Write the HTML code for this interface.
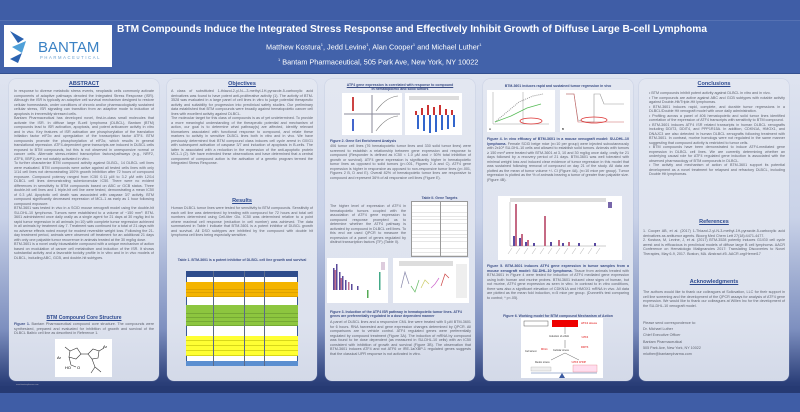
<!DOCTYPE html>
<html><head><meta charset="utf-8"><style>
*{margin:0;padding:0;box-sizing:border-box}
body{width:800px;height:412px;overflow:hidden;position:relative;font-family:"Liberation Sans",sans-serif;background:#3f5da6}
.a{position:absolute}
#bg{left:0;top:74px;width:800px;height:319px;background:linear-gradient(#dfe4f0 0%,#c9d2e8 45%,#7d8fbf 80%,#2a3e78 97%,#263a73 100%)}
.panel{position:absolute;top:79px;width:150px;height:302px;border-radius:7px;background:linear-gradient(#e3e7f1,#dde2ee 80%,#d3d9e8);box-shadow:0 0 1px #9aa6c8}
.t{position:absolute;font-size:3.7px;line-height:4.5px;color:#5e626e;text-align:justify;overflow:hidden}
.h{position:absolute;font-size:5.5px;font-weight:bold;color:#2d4a8f;text-decoration:underline;text-align:center}
.cap{position:absolute;font-size:3.5px;line-height:4.2px;color:#3d4f86;font-weight:bold;overflow:hidden}
.img{position:absolute;background:#fff}
</style></head><body>
<div class="a" style="left:0;top:0;width:800px;height:74px;background:#3f5da6"></div>
<div class="a" style="left:0;top:20px;width:800px;height:54px;border-top:1px solid #5571b3;border-bottom:1px solid #33508f;background:#4262aa"></div>
<div class="a" style="left:4px;top:25px;width:108px;height:42px;background:#fff">
<svg width="108" height="42"><polygon points="6,6 20,14 14,18" fill="#2a62b0"/><polygon points="8,22 22,16 18,28" fill="#4fa0d8"/><polygon points="6,34 18,28 14,38" fill="#2a62b0"/>
<text x="34" y="27" font-family="Liberation Sans" font-size="15" fill="#3b82c4">BANTAM</text>
<text x="36" y="34" font-family="Liberation Sans" font-size="4.2" fill="#6aa0d0" letter-spacing="1.6">PHARMACEUTICAL</text></svg></div>
<div class="a" style="left:117px;top:24px;width:640px;font-size:10.2px;font-weight:bold;color:#fff">BTM Compounds Induce the Integrated Stress Response and Effectively Inhibit Growth of Diffuse Large B-cell Lymphoma</div>
<div class="a" style="left:266px;top:42px;font-size:7.3px;color:#fff">Matthew Kostura<sup style="font-size:4px">1</sup>, Jedd Levine<sup style="font-size:4px">1</sup>, Alan Cooper<sup style="font-size:4px">1</sup> and Michael Luther<sup style="font-size:4px">1</sup></div>
<div class="a" style="left:278px;top:57px;font-size:7.3px;color:#fff"><sup style="font-size:4px">1</sup> Bantam Pharmaceutical, 505 Park Ave, New York, NY 10022</div>

<div id="bg" class="a"></div>
<div class="a" style="left:0;top:386px;width:800px;height:7px;background:#263a73"></div>
<div class="a" style="left:16px;top:384px;font-size:2px;color:#aab">www.bantampharma.com</div>

<!-- col1 -->
<div class="panel" style="left:9px"></div>
<div class="h" style="left:9px;top:81px;width:150px">ABSTRACT</div>
<div class="t" style="left:14px;top:89px;width:140px;height:218px">In response to diverse metabolic stress events, neoplastic cells commonly activate components of adaptive pathways denoted the Integrated Stress Response (ISR). Although the ISR is typically an adaptive cell survival mechanism designed to restore cellular homeostasis, under conditions of chronic and/or pharmacologically sustained cellular stress, ISR signaling can transition from an adaptive mode to induction of apoptosis in irreversibly stressed cells.<br>Bantam Pharmaceutical has developed novel, first-in-class small molecules that activate the ISR. In diffuse large B-cell lymphoma (DLBCL), Bantam (BTM) compounds lead to ISR activation, apoptosis, and potent anticancer activity in vitro and in vivo. Key features of ISR activation are phosphorylation of the translation initiation factor eIF2α and upregulation of the transcription factor ATF4. BTM compounds promote the phosphorylation of eIF2α, which results in general translational repression. ATF4-dependent gene transcripts are induced in DLBCL cells exposed to BTM compounds, but this is not observed in unresponsive normal or cancer cells. Alternate stress-related transcription factors/pathways (e.g., NRF2, ATF6, XBP1) are not notably activated in vitro.<br>To further characterize BTM compound activity against DLBCL, 14 DLBCL cell lines were evaluated. BTM compounds were active against all tested cells lines with only 1/14 cell lines not demonstrating 100% growth inhibition after 72 hours of compound exposure. Compound potency ranged from IC50 0.11 µM to 3.2 µM with 12/14 DLBCL cell lines demonstrating submicromolar IC50. There were no evident differences in sensitivity to BTM compounds based on ABC or GCB status. Three double-hit cell lines and 1 triple-hit cell line were tested, demonstrating a mean IC50 of 0.3 µM. Apoptotic cell death was associated with caspase 3/7 activity. BTM compound significantly decreased expression of MCL-1 as early as 1 hour following compound exposure.<br>BTM-3601 was tested in vivo in a SCID mouse xenograft model using the double-hit SU-DHL-10 lymphoma. Tumors were established to a volume of ~150 mm³. BTM-3601 administered once daily orally as a single agent for 21 days at 30 mg/kg led to rapid tumor regression in all animals (n=10) with complete tumor regression achieved in all animals by treatment day 7. Treatment was continued for a total of 21 days with no adverse effects noted except for modest reversible weight loss. Following the 21-day treatment period, animals were observed off treatment for an additional 21 days with only one palpable tumor recurrence in animals treated at the 30 mg/kg dose.<br>BTM-3601 is a novel orally bioavailable compound with a unique mechanism of action based on modulation of cancer cell metabolism and induction of the ISR. It shows substantial activity and a favorable toxicity profile in in vitro and in in vivo models of DLBCL, including ABC, GCB, and double-hit subtypes.</div>
<div class="h" style="left:9px;top:315px;width:150px;font-size:5px">BTM Compound Core Structure</div>
<div class="t" style="left:14px;top:322px;width:140px;height:14px"><b style="color:#3d4f86">Figure 1.</b> Bantam Pharmaceutical compound core structure. The compounds were synthesized, prepared and evaluated for inhibition of growth and survival of the DLBCL Balb/c cell line as described in Reference 1.</div>
<div class="img" style="left:55px;top:339px;width:57px;height:38px"><svg width="57" height="38"><g stroke="#333" stroke-width=".6" fill="none"><polygon points="15,12 22,9 26,15 21,20 14,18"/><line x1="26" y1="15" x2="33" y2="15"/><polygon points="33,15 38,10 44,12 43,19 37,20"/><line x1="37" y1="20" x2="40" y2="28"/><line x1="40" y1="28" x2="36" y2="34"/><line x1="40" y1="28" x2="46" y2="33"/><line x1="14" y1="18" x2="16" y2="26"/><line x1="16" y1="26" x2="21" y2="28"/><line x1="44" y1="12" x2="49" y2="9"/><line x1="15" y1="12" x2="10" y2="8"/></g><text x="2" y="20" font-size="4" font-family="Liberation Sans">Ar</text><text x="48" y="9" font-size="4" font-family="Liberation Sans">Ar</text><text x="10" y="30" font-size="4" font-family="Liberation Sans">HO</text><text x="22" y="30" font-size="4" font-family="Liberation Sans">O</text></svg></div>

<!-- col2 -->
<div class="panel" style="left:167px"></div>
<div class="h" style="left:167px;top:81px;width:150px">Objectives</div>
<div class="t" style="left:171px;top:89px;width:142px;height:102px">A class of substituted 1-thiazol-2-yl-N—3-methyl-1H-pyrazole-5-carboxylic acid derivatives was found to have potent anti-proliferative activity (1). The activity of BTM-3528 was evaluated in a large panel of cell lines in vitro to judge potential therapeutic activity and suitability for progression into preclinical safety studies. Our preliminary data established that BTM compounds were broadly against hematopoietic cancer cell lines with excellent activity against DLBCL.<br>The molecular target for this class of compounds is as of yet undetermined. To provide a more meaningful understanding of the therapeutic potential and mechanism of action, our goal is to determine what pathway(s) are affected, identify relevant biomarkers associated with functional response to compound, and relate these markers to activity in sensitive DLBCL lines both in vitro and in vivo. We have previously determined that BTM compound class induces cell cycle arrest in G0/G1 with subsequent activation of caspase 3/7 and induction of apoptosis in B-cells. The latter is associated with a reduction in the expression of the anti-apoptotic protein MCL-1 (2). We have extended these observations and have determined that a central component of compound action is the activation of a genetic program termed the Integrated Stress Response.</div>
<div class="h" style="left:167px;top:198px;width:150px">Results</div>
<div class="t" style="left:171px;top:206px;width:142px;height:43px">Human DLBCL tumor lines were tested for sensitivity to BTM compounds. Sensitivity of each cell line was determined by treating with compound for 72 hours and total cell numbers determined using Cell-titer Glo. IC50 was determined relative to a point where maximal cell response (reduction in cell number) was achieved. The data summarized in Table I indicate that BTM-3601 is a potent inhibitor of DLBCL growth and survival. All DSO subtypes are inhibited by the compound with double hit lymphoma cell lines being especially sensitive.</div>
<div class="cap" style="left:171px;top:258px;width:142px;text-decoration:underline;text-align:center">Table 1. BTM-3601 is a potent inhibitor of DLBCL cell line growth and survival</div>
<div class="a" style="left:186px;top:271px;width:112px;height:95px;background:#fff;border:1px solid #3a5a96"></div>
<div class="a" style="left:186px;top:271px;width:112px;height:6px;background:#2f4d8c"></div>
<div class="a" style="left:186px;top:282px;width:112px;height:15px;background:repeating-linear-gradient(#f4b400 0 3.3px,#c98f00 3.3px 3.7px)"></div>
<div class="a" style="left:186px;top:305px;width:112px;height:21px;background:repeating-linear-gradient(#8dc63f 0 3.8px,#5f8f2a 3.8px 4.2px)"></div>
<div class="a" style="left:186px;top:336px;width:112px;height:20px;background:repeating-linear-gradient(#ffff33 0 4.6px,#b0b000 4.6px 5px)"></div>
<div class="a" style="left:186px;top:361px;width:112px;height:5px;background:#5b8fd0"></div>
<div class="a" style="left:213px;top:271px;width:.5px;height:95px;background:#5a6a8a"></div>
<div class="a" style="left:244px;top:271px;width:.5px;height:95px;background:#5a6a8a"></div>
<div class="a" style="left:264px;top:271px;width:.5px;height:95px;background:#5a6a8a"></div>

<!-- col3 -->
<div class="panel" style="left:325px"></div>
<div class="cap" style="left:330px;top:83px;width:140px;text-align:center;text-decoration:underline">ATF4 gene expression is correlated with response to compound<br>in hematopoietic and solid tumors</div>
<div class="img" style="left:342px;top:93px;width:60px;height:42px"><svg width="60" height="42"><g fill="none" stroke="#889"><line x1="30" y1="2" x2="30" y2="40"/><line x1="2" y1="21" x2="58" y2="21"/></g><path d="M34 18 Q44 4 56 3" stroke="#777" fill="none" stroke-width=".6"/><path d="M34 38 Q44 24 56 23" stroke="#777" fill="none" stroke-width=".6"/><rect x="10" y="4" width="2" height="14" fill="#c44"/><rect x="10" y="26" width="2" height="12" fill="#46c"/></svg></div>
<div class="img" style="left:405px;top:93px;width:57px;height:42px"><svg width="57" height="42"><rect x="4" y="3" width="50" height="4" fill="#ddd"/><g fill="#c33"><rect x="10" y="18" width="2" height="4"/><rect x="16" y="15" width="2" height="7"/><rect x="22" y="12" width="2" height="10"/><rect x="28" y="14" width="2" height="8"/><rect x="34" y="12" width="2" height="10"/><rect x="40" y="16" width="2" height="6"/><rect x="46" y="17" width="2" height="5"/></g><g fill="#36c"><rect x="12" y="22" width="2" height="14"/><rect x="18" y="22" width="2" height="16"/><rect x="24" y="22" width="2" height="18"/><rect x="30" y="22" width="2" height="17"/><rect x="36" y="22" width="2" height="15"/><rect x="42" y="22" width="2" height="14"/><rect x="48" y="22" width="2" height="12"/></g></svg></div>
<div class="cap" style="left:330px;top:139px;width:140px">Figure 2. Gene Set Enrichment Analysis</div>
<div class="t" style="left:330px;top:144px;width:141px;height:50px">406 tumor cell lines (76 hematopoietic tumor lines and 330 solid tumor lines) were screened to establish a relationship between gene expression and response to compound (Responder is defined as IC50 < 1.0 µM and > 50% total inhibition of growth or survival). ATF4 gene expression is significantly higher in hematopoietic tumor lines as opposed to solid tumors (p<.001, Figures 2 A and C). ATF4 gene expression is higher in responsive as opposed to non-responsive tumor lines (p<.001, Figures 2 B, D and E). Overall 82% of hematopoietic tumor lines are responsive to compound and represent 36% of all responsive cell lines (Figure E).</div>
<div class="cap" style="left:411px;top:196px;width:57px;text-align:center">Table II. Gene Targets</div>
<div class="img" style="left:411px;top:201px;width:57px;height:56px;background:repeating-linear-gradient(#fff 0 3.2px,#ccc 3.2px 3.6px);border:.5px solid #999"></div>
<div class="a" style="left:440px;top:201px;width:.5px;height:56px;background:#999"></div>
<div class="t" style="left:330px;top:204px;width:76px;height:48px">The higher level of expression of ATF4 in hematopoietic tumors coupled with the association of ATF4 gene expression to compound response prompted us to determine whether the ATF4 pathway is activated by compound in DLBCL cell lines. To this end we used QPCR to measure the expression of a panel of genes regulated by distinct transcription factors (TF) (Table II).</div>
<div class="img" style="left:327px;top:258px;width:61px;height:45px"><svg width="61" height="45"><g fill="#5a4a9a"><rect x="6" y="10" width="1.5" height="22"/><rect x="9" y="6" width="1.5" height="26"/><rect x="12" y="14" width="1.5" height="18"/><rect x="15" y="18" width="1.5" height="14"/><rect x="18" y="22" width="1.5" height="10"/><rect x="24" y="26" width="1.5" height="6"/><rect x="30" y="28" width="1.5" height="4"/></g><g fill="#c07090"><rect x="7.5" y="12" width="1.5" height="20"/><rect x="13.5" y="20" width="1.5" height="12"/><rect x="21" y="24" width="1.5" height="8"/></g><rect x="40" y="32" width="1.5" height="8" fill="#5a5"/><rect x="52" y="14" width="1.5" height="18" fill="#4a8"/><rect x="54" y="4" width="4" height="8" fill="#dcd"/></svg></div>
<div class="img" style="left:393px;top:258px;width:76px;height:45px"><svg width="76" height="45"><rect x="6" y="3" width="54" height="5" fill="#ddd"/><g fill="none" stroke-width=".7"><path d="M8 30 L12 14 L16 26" stroke="#88a"/><path d="M18 28 L22 34 L26 22" stroke="#6b6"/><path d="M28 30 L32 22 L36 26" stroke="#cc6"/><path d="M38 30 L42 26 L46 20" stroke="#c6c"/><path d="M48 28 L52 16 L56 20" stroke="#c44"/></g><rect x="63" y="6" width="11" height="34" fill="#eee"/></svg></div>
<div class="cap" style="left:330px;top:310px;width:141px">Figure 3. Induction of the ATF4 ISR pathway in hematopoietic tumor lines. ATF4 genes are preferentially regulated in a dose dependent manner</div>
<div class="t" style="left:330px;top:320px;width:141px;height:37px">A panel of DLBCL lines and a responsive CML line were treated with 5 µM BTM-3601 for 6 hours. RNA harvested and gene expression changes determined by QPCR. All comparisons are to vehicle control. ATF4 regulated genes were preferentially regulated by compound treatment (Figure 3A). The induction of mRNA by compound was found to be dose dependent (as measured in SU-DHL-10 cells) with an IC50 consistent with inhibition of growth and survival (Figure 3B). The observation that BTM-3601 induces ATF4 and not ATF6 or IRE-1a/XBP-1 regulated genes suggests that the classical UPR response is not activated in vitro.</div>

<!-- col4 -->
<div class="panel" style="left:483px"></div>
<div class="cap" style="left:487px;top:84px;width:142px;text-align:center;text-decoration:underline">BTM-3601 induces rapid and sustained tumor regression in vivo</div>
<div class="img" style="left:487px;top:90px;width:68px;height:42px"><svg width="68" height="42"><g stroke="#999" stroke-width=".5"><line x1="6" y1="2" x2="6" y2="34"/><line x1="6" y1="34" x2="62" y2="34"/><line x1="36" y1="2" x2="36" y2="34"/></g><path d="M8 32 L20 22 L32 12 L46 6 L56 4" stroke="#999" fill="none" stroke-dasharray="1,1"/><path d="M8 32 L24 26 L40 18 L54 14" stroke="#5b5" fill="none" stroke-width=".7"/><ellipse cx="44" cy="31" rx="11" ry="3" fill="none" stroke="#d33" stroke-width=".8"/><text x="2" y="40" font-size="3" font-family="Liberation Sans">A</text></svg></div>
<div class="img" style="left:560px;top:90px;width:70px;height:42px"><svg width="70" height="42"><path d="M6 4 L14 4 L18 30 L26 32 L34 32 L34 4 L40 4 L44 14 L64 14" stroke="#999" fill="none" stroke-width=".6"/><path d="M6 4 L14 4 L18 32 L64 32" stroke="#c66" fill="none" stroke-width=".6"/><ellipse cx="34" cy="30" rx="13" ry="3" fill="none" stroke="#d33" stroke-width=".8"/><text x="2" y="40" font-size="3" font-family="Liberation Sans">B</text></svg></div>
<div class="t" style="left:487px;top:137px;width:142px;height:58px"><b style="color:#3d4f86">Figure 4. In vivo efficacy of BTM-3601 in a mouse xenograft model: SU-DHL-10 lymphoma.</b> Female SCID beige mice (n=10 per group) were injected subcutaneously with 2x10⁶ SU-DHL-10 cells and allowed to establish solid tumors. Animals with tumors ≥ 150 mm³ were treated with BTM-3601 at 3, 10 and 30 mg/kg once daily, orally for 21 days followed by a recovery period of 21 days. BTM-3601 was well tolerated with minimal weight loss and induced clear evidence of tumor regression in this model that was sustained following removal of compound on day 21 of the study. All data are plotted as the mean of tumor volume +/- CI (Figure 4A). (n=10 mice per group). Tumor regression is plotted as the % of animals bearing a tumor of greater than palpable size. (Figure 4B).</div>
<div class="img" style="left:498px;top:196px;width:124px;height:64px"><svg width="124" height="64"><rect x="12" y="2" width="96" height="4" fill="#ddd"/><line x1="12" y1="6" x2="12" y2="50" stroke="#999" stroke-width=".5"/><line x1="12" y1="50" x2="108" y2="50" stroke="#999" stroke-width=".5"/><g fill="#c56a84"><rect x="17" y="8" width="2" height="42"/><rect x="23" y="38" width="2" height="12"/><rect x="29" y="44" width="2" height="6"/><rect x="46" y="20" width="2" height="30"/><rect x="60" y="44" width="2" height="6"/><rect x="70" y="46" width="2" height="4"/></g><g fill="#5a4aa0"><rect x="15" y="40" width="2" height="10"/><rect x="21" y="42" width="2" height="8"/><rect x="27" y="46" width="2" height="4"/><rect x="35" y="47" width="2" height="3"/><rect x="52" y="46" width="2" height="4"/><rect x="64" y="47" width="2" height="3"/><rect x="80" y="47" width="2" height="3"/><rect x="96" y="47" width="2" height="3"/></g><rect x="110" y="6" width="4" height="6" fill="#76a"/><g stroke="#999" stroke-width=".4"><path d="M14 52 L10 58 M22 52 L18 58 M30 52 L26 58 M38 52 L34 58 M46 52 L42 58 M54 52 L50 58 M62 52 L58 58 M70 52 L66 58 M78 52 L74 58 M86 52 L82 58 M94 52 L90 58 M102 52 L98 58"/></g></svg></div>
<div class="t" style="left:487px;top:264px;width:142px;height:42px"><b style="color:#3d4f86">Figure 5. BTM-3601 induces ATF4 gene expression in tumor samples from a mouse xenograft model: SU-DHL-10 lymphoma.</b> Tissue from animals treated with BTM-3601 in Figure 4 were tested for induction of ATF4 mediated gene expression using both human and murine probes. BTM-3601 induced clear signs of human, but not murine, ATF4 gene expression as seen in vitro. In contrast to in vitro conditions, there was also a significant elevation of CDKN1A and HMOX1 mRNA in vivo. All data are plotted as the mean fold induction, n=5 mice per group. (Dunnett's test comparing to control; * p<.05).</div>
<div class="cap" style="left:487px;top:314px;width:142px;text-align:center;text-decoration:underline">Figure 6. Working model for BTM compound Mechanism of Action</div>
<div class="img" style="left:521px;top:318px;width:82px;height:60px"><svg width="82" height="60"><rect x="3" y="3" width="24" height="5" fill="none" stroke="#333" stroke-width=".4"/><rect x="31" y="2" width="26" height="7" fill="#e00"/><text x="60" y="6" font-size="3" fill="#d00" font-family="Liberation Sans">ATF4 stress</text><line x1="44" y1="9" x2="44" y2="16" stroke="#666" stroke-width=".5"/><text x="28" y="19" font-size="2.5" fill="#333" font-family="Liberation Sans">Induction of eIF2α</text><text x="60" y="20" font-size="2.5" fill="#d00" font-family="Liberation Sans">↑ATF4</text><line x1="44" y1="22" x2="44" y2="30" stroke="#666" stroke-width=".5"/><text x="32" y="33" font-size="2.5" fill="#333" font-family="Liberation Sans">Cellular stress</text><text x="20" y="32" font-size="2.5" fill="#d00" font-family="Liberation Sans">MCL1</text><text x="4" y="34" font-size="2.5" fill="#333" font-family="Liberation Sans">Cell arrest</text><text x="60" y="30" font-size="2.5" fill="#d00" font-family="Liberation Sans">DDIT3</text><line x1="44" y1="35" x2="30" y2="42" stroke="#666" stroke-width=".5"/><line x1="44" y1="35" x2="58" y2="42" stroke="#666" stroke-width=".5"/><text x="14" y="45" font-size="2.5" fill="#333" font-family="Liberation Sans">Redox stress</text><text x="50" y="45" font-size="2.5" fill="#d00" font-family="Liberation Sans">↑ATF3 CHOP</text><rect x="10" y="49" width="20" height="4" fill="#eee" stroke="#999" stroke-width=".3"/><rect x="52" y="47" width="24" height="7" fill="#fde" stroke="#d66" stroke-width=".3"/><line x1="10" y1="55" x2="76" y2="55" stroke="#4a6aa8" stroke-width=".6"/><polygon points="41,55 38,60 44,60" fill="#3a5aa0"/></svg></div>

<!-- col5 -->
<div class="panel" style="left:639px"></div>
<div class="h" style="left:639px;top:81px;width:150px">Conclusions</div>
<div class="t" style="left:643px;top:91px;width:142px;height:122px;padding-left:6px">• BTM compounds inhibit potent activity against DLBCL in vitro and in vivo.<br>• The compounds are active against ABC and GCB subtypes with notable activity against Double-Hit/Triple-Hit lymphomas.<br>• BTM-3601 induces rapid, complete, and durable tumor regressions in a DLBCL/Double Hit xenograft model with once daily administration.<br>• Profiling across a panel of 406 hematopoietic and solid tumor lines identified correlation of the expression of ATF4 transcripts with sensitivity to BTM compound.<br>• BTM-3601 induces ATF4 ISR related transcripts in human DLBCL xenografts including DDIT3, DDIT4, and PPP1R15A. In addition, CDKN1A, HMOX1, and DNAJC3 are also detected in human DLBCL xenografts following treatment with BTM-3601. In contrast, murine homologs were not regulated in the same manner suggesting that compound activity is restricted to tumor cells.<br>• BTM compounds have been demonstrated to induce ATF4-mediated gene expression in DLBCL cell lines. We are currently determining whether an underlying causal role for ATF4 regulated gene induction is associated with the observed pharmacology of BTM compounds in DLBCL.<br>• The activity and mechanism of action of BTM-3601 support its potential development as a novel treatment for relapsed and refractory DLBCL, including Double Hit lymphomas.</div>
<div class="h" style="left:639px;top:219px;width:150px">References</div>
<div class="t" style="left:643px;top:229px;width:142px;height:42px">1. Cooper AB, et al. (2017) 1-Thiazol-2-yl-N-3-methyl-1H-pyrazole-5-carboxylic acid derivatives as antitumor agents. Bioorg Med Chem Lett 27(18):4471-4477.<br>2. Kostura, M, Levine, J, et al. (2017) BTM-3528 potently induces G1/G0 cell cycle arrest and is efficacious in preclinical models of diffuse large B cell lymphoma. AACR Conference on Hematologic Malignancies 2017: Translating Discoveries to Novel Therapies, May 6-9, 2017. Boston, MA. Abstract #5. AACR.org/Hemei17</div>
<div class="h" style="left:639px;top:279px;width:150px">Acknowledgments</div>
<div class="t" style="left:643px;top:290px;width:142px;height:24px">The authors would like to thank our colleagues at Sollovation, LLC for their support in cell line screening and the development of the QPCR assays for analysis of ATF4 gene expression. We would like to thank our colleagues at Willen Inc for the development of the SU-DHL-10 xenograft model.</div>
<div class="t" style="left:643px;top:320px;width:142px;height:40px;line-height:6.2px;text-align:left">Please send correspondence to:<br>Dr. Michael Luther<br>Chief Executive Officer<br>Bantam Pharmaceutical<br>505 Park Ave, New York, NY 10022<br>mluther@bantampharma.com</div>
</body></html>
